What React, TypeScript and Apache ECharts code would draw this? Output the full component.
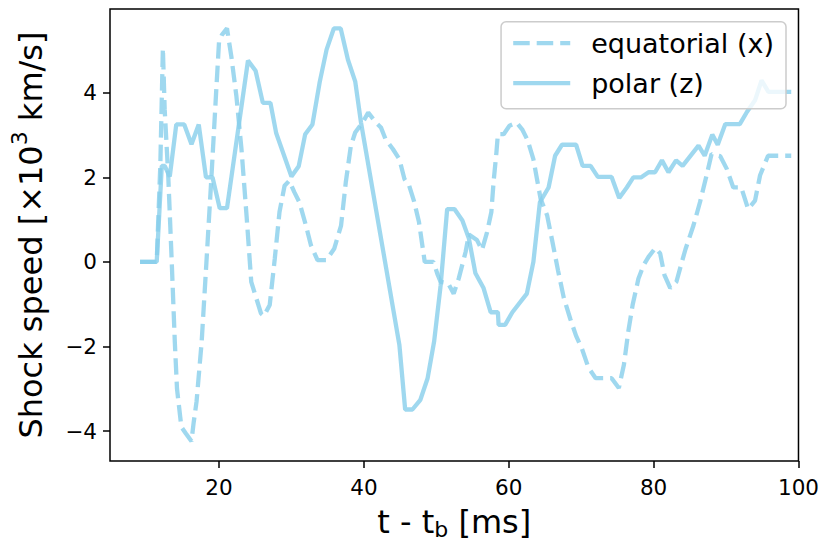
import React, { useEffect, useRef } from "react";
import * as echarts from "echarts";

// ---- data ----
const polarT = [9.1, 11.4, 12.1, 12.5, 13.2, 14.1, 15.2, 16.2, 17.2, 18.2, 19.1, 20.1, 21.1, 24.0, 25.05, 26.05, 27.1, 27.9, 30.0, 31.0, 31.9, 32.9, 33.9, 34.85, 35.85, 36.8, 37.8, 38.8, 39.6, 44.9, 45.7, 46.7, 47.8, 48.8, 49.7, 50.6, 51.5, 52.5, 53.6, 54.5, 55.4, 56.5, 57.5, 58.5, 58.6, 59.5, 60.5, 62.5, 63.4, 64.3, 65.5, 66.4, 67.35, 69.3, 70.2, 71.3, 72.3, 74.2, 75.25, 76.3, 77.2, 78.3, 79.3, 80.2, 81.15, 82.05, 83.1, 84.0, 86.2, 87.05, 88.1, 88.85, 89.9, 91.9, 92.9, 94.0, 94.9, 95.85, 99.0];
const polarV = [0, 0, 2.27, 2.27, 2.02, 3.25, 3.25, 2.78, 3.25, 2.0, 2.0, 1.27, 1.27, 4.76, 4.52, 3.76, 3.76, 3.04, 2.02, 2.26, 3.02, 3.25, 4.25, 5.02, 5.52, 5.52, 4.78, 4.27, 3.3, -1.96, -3.49, -3.49, -3.26, -2.75, -1.88, -0.55, 1.25, 1.25, 0.98, 0.55, -0.27, -0.61, -1.19, -1.19, -1.49, -1.49, -1.19, -0.75, 0.0, 1.41, 1.76, 2.51, 2.77, 2.77, 2.27, 2.27, 2.01, 2.01, 1.51, 1.76, 2.0, 2.0, 2.12, 2.12, 2.4, 2.12, 2.4, 2.27, 2.75, 2.51, 3.01, 2.77, 3.26, 3.26, 3.55, 3.82, 4.29, 4.02, 4.02];

const equatorialT = [9.1, 11.4, 11.9, 12.25, 12.5, 13.0, 13.45, 13.9, 14.2, 14.8, 15.4, 16.2, 16.5, 16.9, 17.6, 18.3, 18.95, 19.6, 20.0, 20.4, 21.1, 21.7, 22.4, 23.1, 23.8, 24.45, 25.15, 25.8, 26.2, 27.0, 27.7, 28.35, 29.05, 29.7, 30.4, 31.1, 32.0, 32.7, 33.6, 34.8, 35.9, 36.85, 37.5, 38.2, 38.8, 39.8, 40.6, 41.7, 42.35, 43.0, 44.0, 44.9, 45.6, 46.25, 46.9, 47.6, 48.4, 49.6, 50.2, 50.6, 51.6, 52.4, 53.1, 54.05, 54.5, 55.6, 56.3, 57.0, 57.6, 57.9, 58.3, 58.5, 59.3, 60.1, 61.1, 61.9, 62.6, 63.4, 63.9, 64.4, 65.3, 66.0, 66.8, 67.6, 68.5, 69.3, 70.1, 71.0, 72.0, 74.2, 75.2, 75.9, 76.5, 77.1, 77.9, 78.6, 79.3, 80.25, 80.9, 81.5, 82.3, 83.15, 83.9, 84.4, 85.5, 86.4, 87.3, 88.0, 89.2, 90.1, 91.0, 92.1, 93.05, 94.0, 94.7, 95.8, 99.0];
const equatorialV = [0, 0, 2.3, 5.05, 3.6, 2.0, 0.1, -1.9, -3.0, -3.9, -4.05, -4.24, -3.8, -3.3, -1.9, 0.1, 2.0, 4.0, 5.2, 5.37, 5.52, 4.86, 3.92, 2.67, 1.1, -0.47, -0.86, -1.22, -1.28, -1.02, 0.08, 1.18, 1.8, 1.92, 1.65, 1.41, 0.86, 0.39, 0.04, 0.04, 0.31, 0.86, 1.88, 2.74, 3.06, 3.29, 3.53, 3.29, 3.18, 2.9, 2.67, 2.43, 1.96, 1.8, 1.45, 0.95, 0.0, 0.0, -0.31, -0.47, -0.5, -0.75, -0.39, 0.24, 0.65, 0.52, 0.28, 0.7, 1.18, 1.88, 2.59, 3.02, 3.02, 3.22, 3.29, 3.12, 2.88, 2.43, 1.96, 1.49, 1.1, 0.5, -0.2, -0.85, -1.35, -1.75, -2.05, -2.5, -2.75, -2.75, -2.98, -2.43, -1.65, -1.02, -0.4, -0.08, 0.12, 0.33, 0.2, -0.31, -0.62, -0.47, 0.0, 0.3, 0.86, 1.41, 2.04, 2.55, 2.5, 2.2, 1.76, 1.76, 1.25, 1.45, 2.05, 2.51, 2.51];

const seriesNames = ["equatorial (x)", "polar (z)"];
const xTicks = [20, 40, 60, 80, 100];
const yTicks = [-4, -2, 0, 2, 4];

const FONT = "DejaVu Sans";
const LINE_COLOR = "#87ceeb";
const LINE_WIDTH = 4.3;
const DASH = [16.5, 7];

function pairs(t: number[], v: number[]) {
  return t.map((x, i) => [x, v[i]]);
}

export default function App() {
  const ref = useRef<HTMLDivElement>(null);
  useEffect(() => {
    if (!ref.current) return;
    const chart = echarts.init(ref.current, undefined, { renderer: "svg" });
    const fmt = (v: number) => (v < 0 ? "\u2212" + Math.abs(v) : String(v));
    chart.setOption({
      animation: false,
      textStyle: { fontFamily: FONT },
      grid: {
        left: 110,
        right: 22.5,
        top: 9,
        bottom: 81.7,
        show: true,
        borderColor: "#000",
        borderWidth: 1.5,
        backgroundColor: "transparent",
      },
      legend: {
        data: [
          {
            name: seriesNames[0],
            lineStyle: { color: LINE_COLOR, width: LINE_WIDTH, type: DASH, opacity: 0.8 },
          },
          {
            name: seriesNames[1],
            lineStyle: { color: LINE_COLOR, width: LINE_WIDTH, type: "solid", opacity: 0.8 },
          },
        ],
        orient: "vertical",
        right: 36,
        top: 21.7,
        padding: [8, 12, 12, 10],
        itemWidth: 57,
        itemHeight: 14,
        itemGap: 13,
        itemStyle: { opacity: 0 },
        backgroundColor: "rgba(255,255,255,0.8)",
        borderColor: "#cccccc",
        borderWidth: 1.5,
        borderRadius: 5,
        textStyle: {
          fontFamily: FONT,
          fontSize: 27,
          lineHeight: 27,
          color: "#000",
          padding: [0, 0, 0, 16],
        },
      },
      xAxis: {
        type: "value",
        min: 4.95,
        max: 100,
        name: "t - t{sub|b} [ms]",
        nameLocation: "middle",
        nameGap: 39,
        nameTextStyle: {
          fontFamily: FONT,
          fontSize: 32,
          lineHeight: 37,
          color: "#000",
          rich: {
            sub: { fontFamily: FONT, fontSize: 22, lineHeight: 22, verticalAlign: "bottom", color: "#000" },
          },
        },
        axisLine: { show: false, onZero: false },
        splitLine: { show: false },
        axisTick: {
          show: true,
          length: 7,
          inside: false,
          customValues: xTicks,
          lineStyle: { color: "#000", width: 1.5 },
        },
        axisLabel: {
          customValues: xTicks,
          fontFamily: FONT,
          fontSize: 21.5,
          color: "#000",
          margin: 15,
          formatter: fmt,
        },
      },
      yAxis: {
        type: "value",
        min: -4.71,
        max: 5.98,
        name: "Shock speed [\u00d710{sup|3} km/s]",
        nameLocation: "middle",
        nameGap: 55,
        nameTextStyle: {
          fontFamily: FONT,
          fontSize: 32,
          lineHeight: 46,
          color: "#000",
          rich: {
            sup: { fontFamily: FONT, fontSize: 22, lineHeight: 24, verticalAlign: "top", color: "#000" },
          },
        },
        axisLine: { show: false, onZero: false },
        splitLine: { show: false },
        axisTick: {
          show: true,
          length: 7,
          inside: false,
          customValues: yTicks,
          lineStyle: { color: "#000", width: 1.5 },
        },
        axisLabel: {
          customValues: yTicks,
          fontFamily: FONT,
          fontSize: 21.5,
          color: "#000",
          margin: 13,
          formatter: fmt,
        },
      },
      series: [
        {
          name: seriesNames[0],
          type: "line",
          data: pairs(equatorialT, equatorialV),
          symbol: "none",
          showSymbol: false,
          color: LINE_COLOR,
          lineStyle: { color: LINE_COLOR, width: LINE_WIDTH, type: DASH, opacity: 0.8 },
          z: 2,
        },
        {
          name: seriesNames[1],
          type: "line",
          data: pairs(polarT, polarV),
          symbol: "none",
          showSymbol: false,
          color: LINE_COLOR,
          lineStyle: { color: LINE_COLOR, width: LINE_WIDTH, type: "solid", opacity: 0.8 },
          z: 2,
        },
      ],
    });
    return () => chart.dispose();
  }, []);
  return <div ref={ref} style={{ width: 822, height: 545, position: "absolute", left: 0, top: 0 }} />;
}
